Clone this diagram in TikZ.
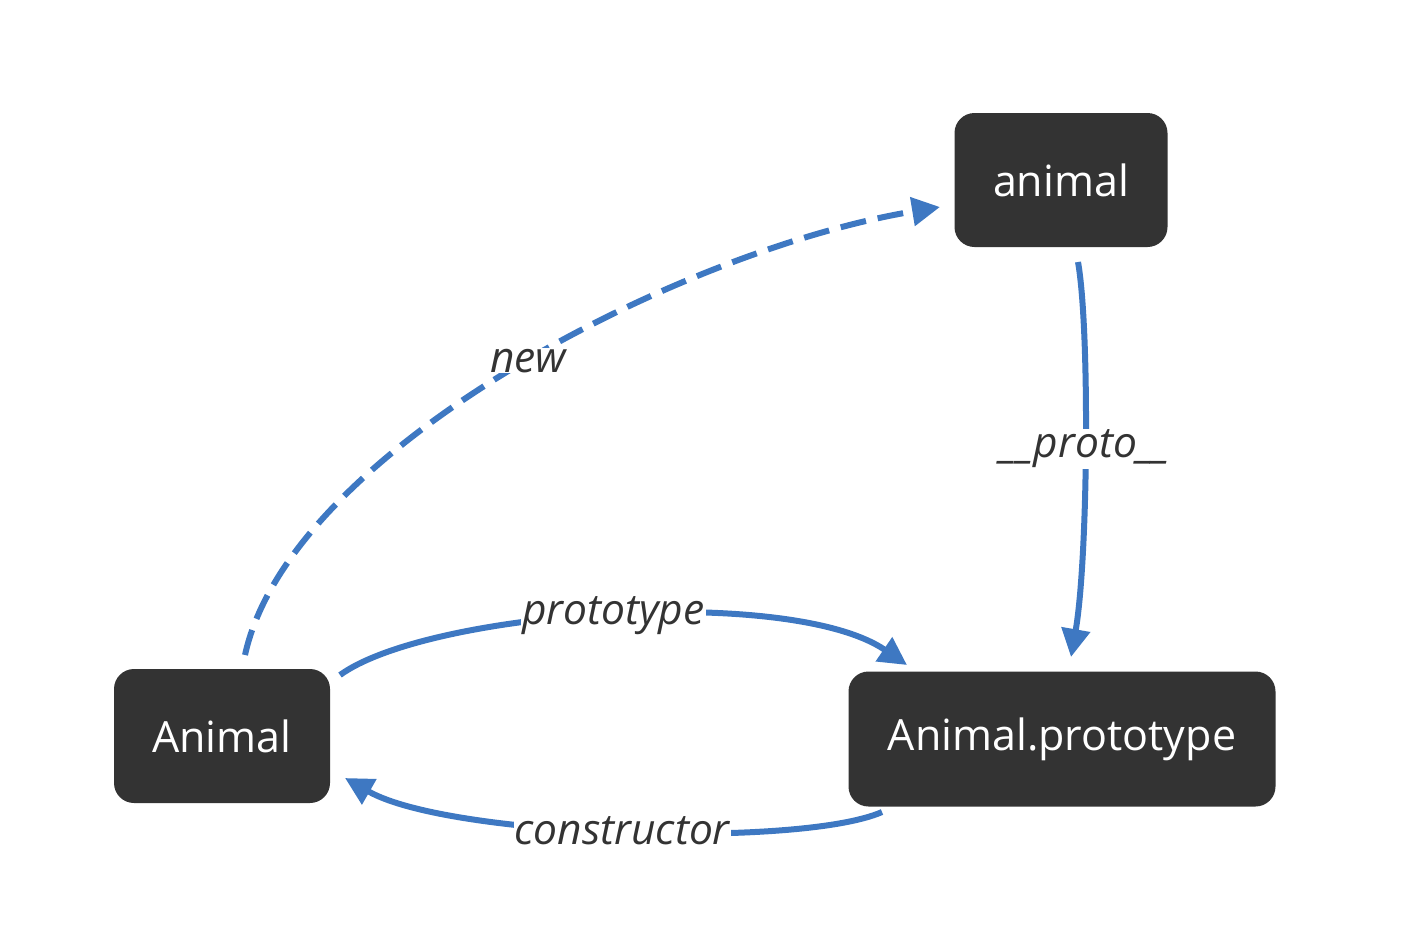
\documentclass[tikz,border=0pt]{standalone}
\usepackage{fontspec}
\setmainfont{Open Sans}
\usetikzlibrary{arrows.meta}
\definecolor{edgeblue}{HTML}{3E78C2}
\definecolor{nodegray}{HTML}{333333}
\tikzset{
  box/.style={draw=none, fill=nodegray, text=white, rounded corners=20pt, font=\fontsize{43}{50}\selectfont, inner sep=0pt},
  link/.style={draw=edgeblue, line width=6pt, -{Triangle[length=28pt,width=28pt]}},
  lbl/.style={fill=white, text=nodegray, font=\fontsize{42.5}{50}\selectfont\itshape, inner sep=1pt}
}
\begin{document}
\begin{tikzpicture}[x=1pt,y=-1pt]
\useasboundingbox (0,0) rectangle (1426,924);
\node[box, minimum width=213pt, minimum height=134pt] (obj) at (1061,180) {animal};
\node[box, minimum width=216pt, minimum height=134pt] (ctor) at (222,736) {Animal};
\node[box, minimum width=427pt, minimum height=135pt] (proto) at (1062,739) {Animal.prototype};
\coordinate (newS) at (245,655);
\coordinate (newE) at (940,207);
\draw[link, dash pattern=on 26pt off 12pt] (newS) .. controls (290,450) and (680,250) .. (newE)
  node[lbl, pos=0.52] {new};
\coordinate (prS) at (1078,262);
\coordinate (prE) at (1071,657);
\draw[link] (prS) .. controls (1090,330) and (1088,560) .. (prE)
  node[lbl, pos=0.5] {\_\_proto\_\_};
\coordinate (ptS) at (340,675);
\coordinate (ptE) at (907,665);
\draw[link] (ptS) .. controls (430,610) and (790,585) .. (ptE)
  node[lbl, pos=0.5] {prototype};
\coordinate (csS) at (882,812);
\coordinate (csE) at (345,778);
\draw[link] (csS) .. controls (800,848) and (450,838) .. (csE)
  node[lbl, pos=0.5] {constructor};
\end{tikzpicture}
\end{document}
